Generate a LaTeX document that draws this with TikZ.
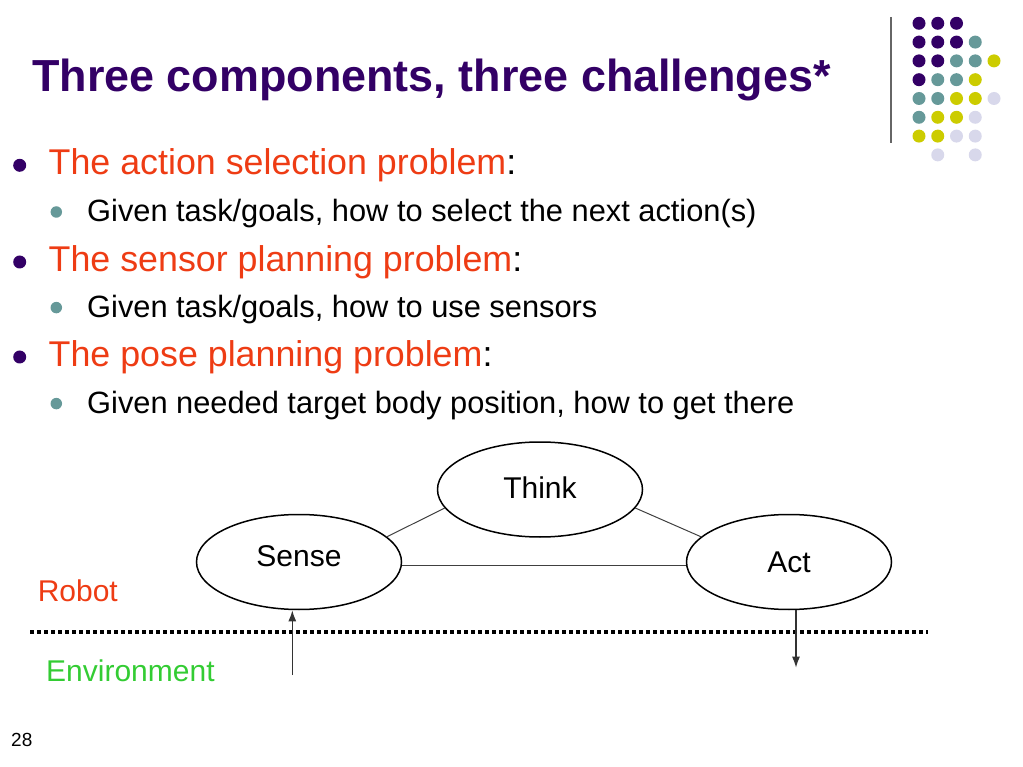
\documentclass[tikz,border=0pt]{standalone}
\usepackage{fontspec}
\setmainfont{Liberation Sans}
\usetikzlibrary{positioning}
\usetikzlibrary{calc}
\usetikzlibrary{arrows.meta,shapes.geometric}

\definecolor{titlepurple}{RGB}{51,0,102}
\definecolor{probred}{RGB}{238,60,20}
\definecolor{envgreen}{RGB}{51,204,51}
\definecolor{gp}{RGB}{51,0,102}
\definecolor{gt}{RGB}{102,153,153}
\definecolor{gy}{RGB}{204,204,0}
\definecolor{gl}{RGB}{216,216,235}

\tikzset{
txt/.style={anchor=base west, inner sep=0pt},
lvlone/.style={txt, font=\fontsize{35.8}{40}\selectfont},
lvltwo/.style={txt, font=\fontsize{30.8}{36}\selectfont},
dotone/.style={circle, fill=titlepurple, inner sep=0pt, minimum size=13pt},
dottwo/.style={circle, fill=gt, inner sep=0pt, minimum size=11.5pt},
stage/.style={draw, ellipse, line width=1.5pt, minimum width=205pt, minimum height=95pt, inner sep=0pt, text depth=0pt, font=\fontsize{30}{36}\selectfont},
link/.style={line width=1pt, black!75},
io/.style={-{Latex[length=11pt,width=8pt]}, line width=1.4pt, black!80}
}

\begin{document}
\begin{tikzpicture}[x=1pt,y=-1pt]
\useasboundingbox (0,0) rectangle (1023,767);

\node[txt, text=titlepurple, font=\bfseries\fontsize{44.9}{50}\selectfont](title) at (32,91.7){Three components, three challenges*};

% logo
\draw[line width=1.3pt, black!60] (891,17) -- (891,143);
\foreach \r/\cols in {1/{gp,gp,gp,none,none}, 2/{gp,gp,gp,gt,none}, 3/{gp,gp,gt,gt,gy}, 4/{gp,gt,gt,gy,none}, 5/{gt,gt,gy,gy,gl}, 6/{gt,gy,gy,gl,none}, 7/{gy,gy,gl,gl,none}, 8/{none,gl,none,gl,none}}
  \foreach \c [count=\k] in \cols
    \path[fill=\c] ({919+18.75*(\k-1)},{23.3+18.8*(\r-1)}) circle (6.5);

% bullets
\node[dotone](b1) at (19.7,165.3){};
\node[lvlone](p1) at (48.5,175){\textcolor{probred}{The action selection problem}:};
\node[dottwo](s1) at (56.3,212){};
\node[lvltwo](t1) at (87,221.7){Given task/goals, how to select the next action(s)};
\node[dotone](b2) at (19.7,262){};
\node[lvlone](p2) at (48.5,271.7){\textcolor{probred}{The sensor planning problem}:};
\node[dottwo](s2) at (56.3,307.6){};
\node[lvltwo](t2) at (87,317.3){Given task/goals, how to use sensors};
\node[dotone](b3) at (19.7,357){};
\node[lvlone](p3) at (48.5,366.7){\textcolor{probred}{The pose planning problem}:};
\node[dottwo](s3) at (56.3,403.6){};
\node[lvltwo](t3) at (87,413.3){Given needed target body position, how to get there};

% diagram
\node[stage, text height=17.6pt](think) at (540,489.5){Think};
\node[stage, text height=8pt](sense) at (299,562){Sense};
\node[stage, text height=20.6pt](act) at (789,562){Act};

\node[txt, text=probred, font=\fontsize{30}{36}\selectfont](robot) at (37.6,601){Robot};
\node[txt, text=envgreen, font=\fontsize{30}{36}\selectfont](env) at (46,681){Environment};
\node[txt, font=\fontsize{19}{22}\selectfont](page) at (11,746){28};

\coordinate(divl) at (30,631.7);
\coordinate(divr) at (928,631.7);
\coordinate(envin) at (292.3,675);
\coordinate(envout) at (796,667.7);

\path
(sense.16) edge[link] (think.191)
(think.349) edge[link] (act.164)
(sense.-2.2) edge[link] (act.182.2);
\draw[line width=4pt, dash pattern=on 4pt off 3pt] (divl) -- (divr);
\draw[io] (envin) -- (envin |- sense.south);
\draw[io] (act.south -| envout) -- (envout);
\end{tikzpicture}
\end{document}
